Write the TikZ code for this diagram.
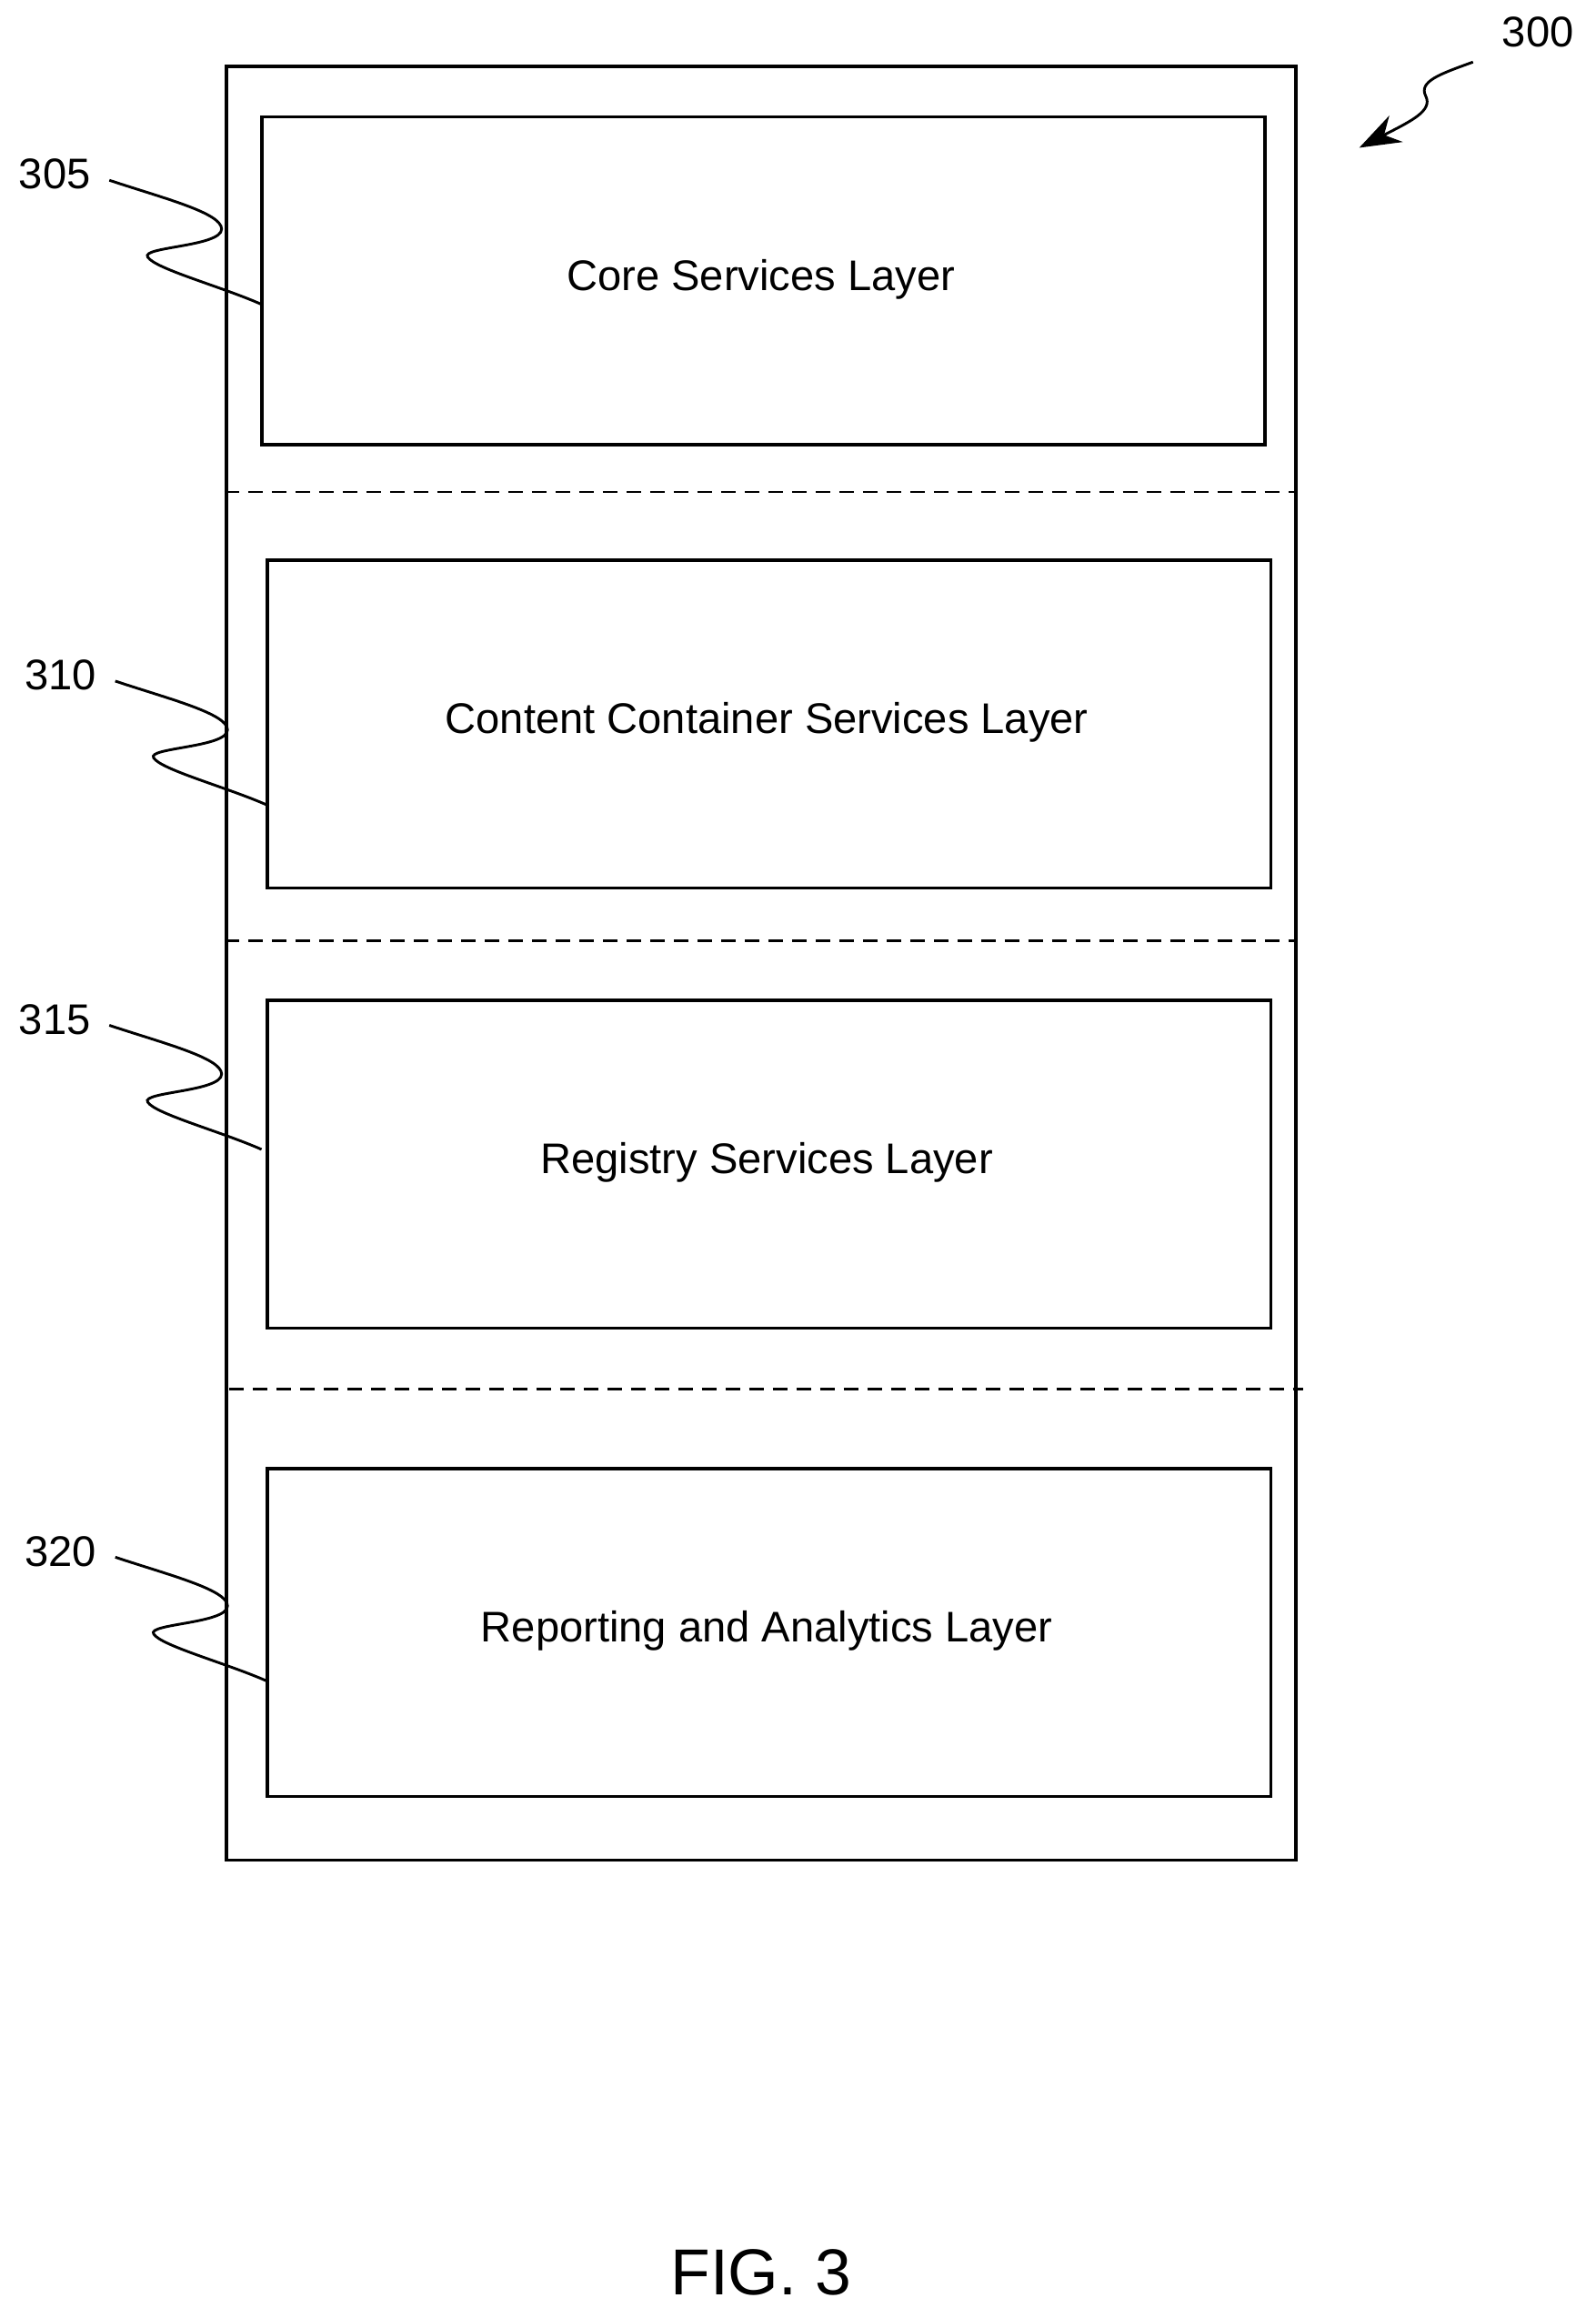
\documentclass[tikz,border=0pt]{standalone}
\usepackage{fontspec}
\setmainfont{Liberation Sans}
\usetikzlibrary{arrows.meta}
\begin{document}
\begin{tikzpicture}[x=0.5pt,y=-0.5pt,
  box/.style={draw,line width=1.1pt,anchor=north west,inner sep=0,minimum width=339.5pt,minimum height=111pt},
  lbl/.style={font=\fontsize{14.5}{16}\selectfont},
  sepline/.style={draw,line width=0.9pt,dash pattern=on 5pt off 3pt},
  lead/.style={draw,line width=0.9pt}]
\useasboundingbox (0,0) rectangle (1080,1569);
\node[box,minimum width=362pt,minimum height=607pt] (outer) at (152,44) {};
\node[box] (core) at (176,78) {};
\node[lbl] at (515,189) {Core Services Layer};
\node[box] (cont) at (180,378) {};
\node[lbl] at (519,489) {Content Container Services Layer};
\node[box] (reg) at (180,676) {};
\node[lbl] at (519,787) {Registry Services Layer};
\node[box] (rep) at (180,993) {};
\node[lbl] at (519,1104) {Reporting and Analytics Layer};
\coordinate (d1a) at (152,333); \coordinate (d1b) at (876,333);
\coordinate (d2a) at (152,637); \coordinate (d2b) at (878,637);
\coordinate (d3a) at (155,940); \coordinate (d3b) at (882,940);
\draw[sepline] (d1a) -- (d1b);
\draw[sepline] (d2a) -- (d2b);
\draw[sepline] (d3a) -- (d3b);
\node[lbl] (l305) at (37,118) {305};
\node[lbl] (l310) at (41,457) {310};
\node[lbl] (l315) at (37,690) {315};
\node[lbl] (l320) at (41,1050) {320};
\node[lbl] (l300) at (1041,22) {300};
\foreach \n/\y/\dx in {305/122/0,310/461/4,315/694/0,320/1054/4}{
  \draw[lead] (74+\dx,\y) .. controls (110+\dx,\y+12) and (150+\dx,\y+22) .. (150+\dx,\y+33)
    .. controls (150+\dx,\y+45) and (95+\dx,\y+45) .. (100+\dx,\y+52)
    .. controls (105+\dx,\y+60) and (150+\dx,\y+72) .. (177+\dx,\y+84);
}
\coordinate (a300) at (920,100);
\draw[lead,-{Stealth[length=14pt,width=10pt]}] (997,42) .. controls (975,50) and (960,55) .. (965,65)
  .. controls (970,75) and (955,82) .. (a300);
\node[font=\fontsize{22}{26}\selectfont] (fig) at (515,1538) {FIG. 3};
\end{tikzpicture}
\end{document}
